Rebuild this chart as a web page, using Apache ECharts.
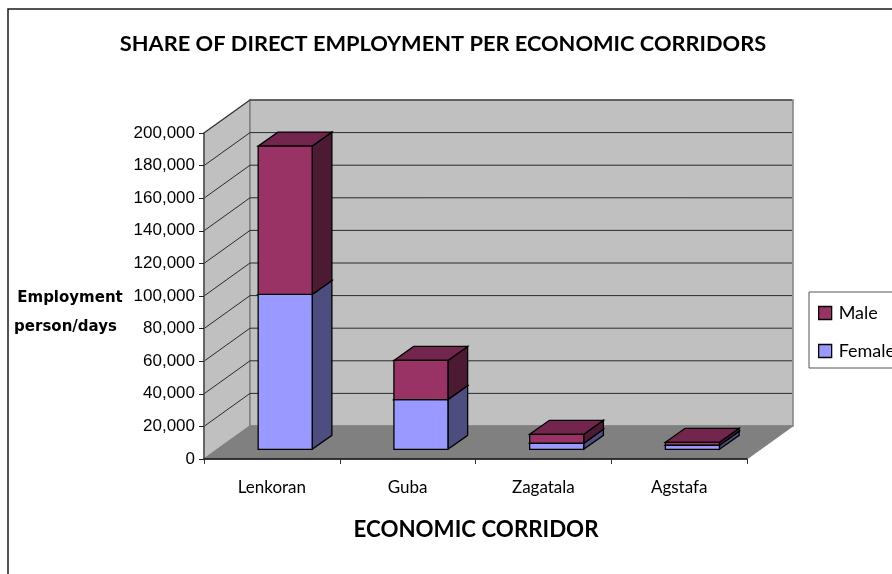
<!DOCTYPE html>
<html>
<head>
<meta charset="utf-8">
<style>html,body{margin:0;padding:0;background:#fff;overflow:hidden}#chart{width:892px;height:574px}</style>
<script src="https://cdn.jsdelivr.net/npm/echarts@6/dist/echarts.min.js"></script>
</head>
<body>
<div id="chart"></div>
<script>
// Employment in person/days per economic corridor
const categories = ['Lenkoran', 'Guba', 'Zagatala', 'Agstafa'];
const female = [95000, 30500, 3700, 2500];
const male = [91000, 24000, 5500, 1800];
const yTicks = [0, 20000, 40000, 60000, 80000, 100000, 120000, 140000, 160000, 180000, 200000];

// Oblique projection of the chart box, in pixels
const BOX_DX = 46, BOX_DY = -33;
const BAR_GAP_DX = 13.3, BAR_GAP_DY = -9.7;
const BAR_DX = 19.7, BAR_DY = -14;
const BAR_RATIO = 0.398;

const WALL = '#C0C0C0', FLOOR = '#808080', EDGE = '#808080', GRID = '#2a2a2a';

function poly(points, fill, stroke, width) {
  return { type: 'polygon', shape: { points }, style: { fill, stroke: stroke || 'none', lineWidth: width || 0 } };
}

// Horizontal extent of the category axis, taken from the first and last band
function plotExtent(api) {
  const band = api.size([1, 0])[0];
  return [api.coord([0, 0])[0] - band / 2, api.coord([categories.length - 1, 0])[0] + band / 2];
}

// Side wall, back wall and floor of the box
function renderBox(params, api) {
  const [x0, x1] = plotExtent(api);
  const yb = api.coord([0, 0])[1], yt = api.coord([0, 200000])[1];
  const p = (x, y) => [x + BOX_DX, y + BOX_DY];
  return { type: 'group', children: [
    poly([[x0, yb], [x0, yt], p(x0, yt), p(x0, yb)], WALL, EDGE, 1.5),
    poly([p(x0, yb), p(x0, yt), p(x1, yt), p(x1, yb)], WALL, EDGE, 1.5),
    poly([[x0, yb], p(x0, yb), p(x1, yb), [x1, yb]], FLOOR, EDGE, 1)
  ] };
}

// One gridline per tick, running along the side wall and across the back wall
function renderGrid(params, api) {
  const v = api.value(0);
  const [x0, x1] = plotExtent(api);
  const y = api.coord([0, v])[1];
  const style = { stroke: GRID, lineWidth: 1, fill: 'none' };
  return { type: 'polyline', shape: { points: [[x0, y], [x0 + BOX_DX, y + BOX_DY], [x1 + BOX_DX - 1, y + BOX_DY]] }, style };
}

// Extruded stacked column: side, top, then front face
function barRenderer(front, top, side) {
  return function (params, api) {
    const i = api.value(0);
    const w = api.size([1, 0])[0] * BAR_RATIO;
    const c0 = api.coord([i, api.value(1)]), c1 = api.coord([i, api.value(2)]);
    const xl = c0[0] + BAR_GAP_DX - w / 2, xr = xl + w;
    const yb = c0[1] + BAR_GAP_DY, yt = c1[1] + BAR_GAP_DY;
    const s = '#000', lw = 1.3;
    return { type: 'group', children: [
      poly([[xr, yb], [xr + BAR_DX, yb + BAR_DY], [xr + BAR_DX, yt + BAR_DY], [xr, yt]], side, s, lw),
      poly([[xl, yt], [xl + BAR_DX, yt + BAR_DY], [xr + BAR_DX, yt + BAR_DY], [xr, yt]], top, s, lw),
      poly([[xl, yb], [xr, yb], [xr, yt], [xl, yt]], front, s, lw)
    ] };
  };
}

const femaleRows = categories.map((c, i) => [i, 0, female[i]]);
const maleRows = categories.map((c, i) => [i, female[i], female[i] + male[i]]);

const chart = echarts.init(document.getElementById('chart'), null, { renderer: 'canvas' });
chart.setOption({
  animation: false,
  backgroundColor: '#fff',
  graphic: [{
    type: 'rect', silent: true, z: -10,
    shape: { x: 8, y: 9, width: 920, height: 600 },
    style: { fill: '#fff', stroke: '#1a1a1a', lineWidth: 1.5 }
  }],
  title: [
    { text: 'SHARE OF DIRECT EMPLOYMENT PER ECONOMIC CORRIDORS', left: 443, top: 33, textAlign: 'center', padding: 0,
      textStyle: { fontFamily: 'Lato', fontWeight: 'bold', fontSize: 21.8, color: '#000' } },
    { text: 'ECONOMIC CORRIDOR', left: 476, top: 519, textAlign: 'center', padding: 0,
      textStyle: { fontFamily: 'Lato', fontWeight: 'bold', fontSize: 22.3, color: '#000' } },
    { text: 'Employment', left: 70, top: 291, textAlign: 'center', padding: 0,
      textStyle: { fontFamily: 'DejaVu Sans', fontWeight: 'bold', fontSize: 15, color: '#000' } },
    { text: 'person/days', left: 65.5, top: 320, textAlign: 'center', padding: 0,
      textStyle: { fontFamily: 'DejaVu Sans', fontWeight: 'bold', fontSize: 15, color: '#000' } }
  ],
  legend: {
    data: ['Male', 'Female'],
    orient: 'vertical',
    left: 809, top: 292,
    padding: [12, 40, 8, 9],
    itemWidth: 13, itemHeight: 13, itemGap: 20,
    icon: 'rect',
    backgroundColor: '#fff',
    borderColor: '#555', borderWidth: 1,
    selectedMode: false,
    itemStyle: { borderColor: '#000', borderWidth: 1.3 },
    textStyle: { fontFamily: 'Lato', fontSize: 18, color: '#000', padding: [0, 0, 0, 2] }
  },
  grid: { left: 204, top: 133, width: 543, height: 326 },
  xAxis: {
    type: 'category', data: categories, z: 3,
    axisLine: { lineStyle: { color: '#111', width: 1.5 } },
    axisTick: { show: true, alignWithLabel: false, length: 5, lineStyle: { color: '#333' } },
    axisLabel: { fontFamily: 'Lato', fontSize: 17, color: '#000', margin: 20 },
    splitLine: { show: false }
  },
  yAxis: {
    type: 'value', min: 0, max: 200000, interval: 20000, z: 3,
    axisLine: { show: true, lineStyle: { color: '#555', width: 1.5 } },
    axisTick: { show: true, length: 5, lineStyle: { color: '#222' } },
    axisLabel: { fontFamily: 'Liberation Sans', fontSize: 17, color: '#000', margin: 9,
      formatter: v => v.toLocaleString('en-US') },
    splitLine: { show: false }
  },
  series: [
    { type: 'custom', name: 'box', z: 0, silent: true, renderItem: renderBox, data: [[0]], encode: { x: 0 } },
    { type: 'custom', name: 'grid', z: 1, silent: true, renderItem: renderGrid, data: yTicks.slice(1).map(v => [v]), encode: { y: 0 } },
    { type: 'custom', name: 'Female', z: 2, renderItem: barRenderer('#9999FF', '#7373BF', '#4D4D80'),
      itemStyle: { color: '#9999FF' }, data: femaleRows, encode: { x: 0, y: [1, 2] } },
    { type: 'custom', name: 'Male', z: 2, renderItem: barRenderer('#993366', '#73264D', '#4D1A33'),
      itemStyle: { color: '#993366' }, data: maleRows, encode: { x: 0, y: [1, 2] } }
  ]
});
</script>
</body>
</html>
